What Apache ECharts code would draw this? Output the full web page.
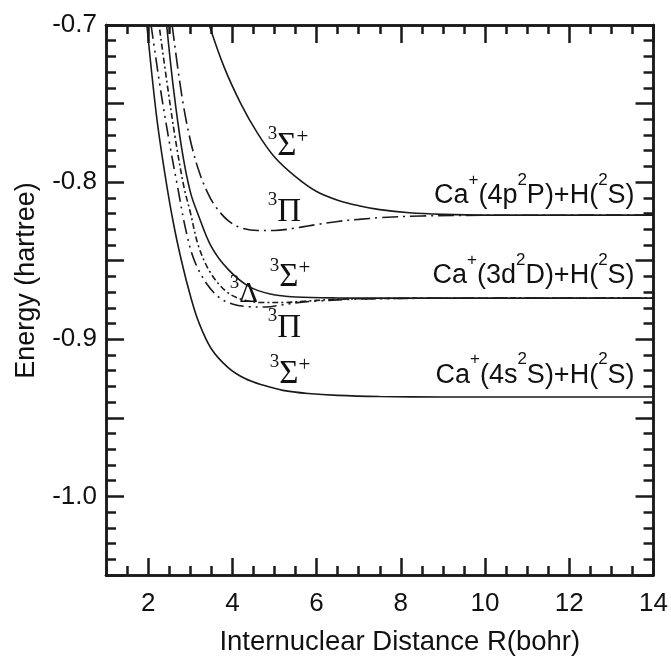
<!DOCTYPE html>
<html>
<head>
<meta charset="utf-8">
<script src="https://cdn.jsdelivr.net/npm/echarts@6/dist/echarts.min.js"></script>
<style>
html,body{margin:0;padding:0;background:#fff;}
#chart{width:671px;height:661px;}
</style>
</head>
<body>
<div id="chart"></div>
<script>
// CaH+ triplet potential curves, [R (bohr), E (hartree)]
var sigma4s=[[1.97,-0.700],[2.2,-0.758],[2.4,-0.795],[2.6,-0.826],[2.8,-0.851],[3.0,-0.872],[3.2,-0.889],[3.5,-0.906],[3.9,-0.918],[4.3,-0.925],[4.7,-0.929],[5.2,-0.9325],[5.8,-0.9345],[6.5,-0.9357],[7.5,-0.9364],[9,-0.9367],[14,-0.9367]];
var sigma3d=[[2.44,-0.700],[2.6,-0.740],[2.8,-0.779],[3.0,-0.806],[3.2,-0.8215],[3.5,-0.841],[3.9,-0.8555],[4.4,-0.8665],[4.9,-0.8712],[5.5,-0.8731],[6.5,-0.8737],[8,-0.8738],[14,-0.8738]];
var sigma4p=[[3.45,-0.700],[3.8,-0.7265],[4.2,-0.750],[4.6,-0.769],[5.0,-0.784],[5.5,-0.7965],[6.0,-0.806],[6.5,-0.8115],[7.0,-0.815],[7.5,-0.8175],[8.2,-0.8195],[9,-0.8205],[10,-0.821],[14,-0.821]];
var pi4p=[[2.57,-0.700],[2.8,-0.745],[3.0,-0.773],[3.2,-0.7925],[3.4,-0.806],[3.6,-0.8155],[3.9,-0.8245],[4.2,-0.829],[4.6,-0.8308],[5.0,-0.8308],[5.5,-0.8292],[6.0,-0.827],[6.5,-0.825],[7.0,-0.8237],[7.5,-0.8226],[8.5,-0.8215],[10,-0.8211],[14,-0.821]];
var pi3d=[[2.07,-0.700],[2.3,-0.742],[2.5,-0.774],[2.7,-0.803],[2.9,-0.831],[3.1,-0.850],[3.4,-0.865],[3.7,-0.8737],[4.0,-0.8775],[4.4,-0.8793],[4.8,-0.8795],[5.2,-0.878],[5.6,-0.8765],[6.0,-0.8757],[6.5,-0.8749],[7.2,-0.8743],[8.5,-0.8739],[10,-0.8738],[14,-0.8738]];
var delta3d=[[2.26,-0.700],[2.45,-0.737],[2.65,-0.773],[2.85,-0.803],[3.0,-0.819],[3.2,-0.841],[3.5,-0.8585],[3.9,-0.8705],[4.3,-0.8752],[4.7,-0.8766],[5.2,-0.8766],[5.7,-0.8758],[6.3,-0.8748],[7,-0.8742],[8.5,-0.8739],[14,-0.8738]];

// axis ticks and labels
var xMajorTicks=[2,4,6,8,10,12,14];
var xMinorTicks=[];
for(var i=2;i<=28;i++){xMinorTicks.push(i/2);}
var yLabelValues=[-1.0,-0.9,-0.8,-0.7];
var yMajorTicks=[-1.05,-1.0,-0.95,-0.9,-0.85,-0.8,-0.75,-0.7];
var yMinorTicks=[];
for(var j=-105;j<=-70;j++){yMinorTicks.push(j/100);}

// state labels: [symbol, R, E]
var stateLabels=[
  ['S',4.84,-0.7770],
  ['P',4.84,-0.8189],
  ['S',4.89,-0.8604],
  ['D',3.94,-0.8717],
  ['P',4.84,-0.8928],
  ['S',4.89,-0.9220]
];
var limitLabels=[
  ['{n|Ca}{s|+}{n|(4p}{s|2}{n|P)+H(}{s|2}{n|S)}',13.55,-0.8085],
  ['{n|Ca}{s|+}{n|(3d}{s|2}{n|D)+H(}{s|2}{n|S)}',13.55,-0.8595],
  ['{n|Ca}{s|+}{n|(4s}{s|2}{n|S)+H(}{s|2}{n|S)}',13.55,-0.9228]
];

var sans='Liberation Sans, Arial, Helvetica, sans-serif';
var serif='Liberation Serif, Times New Roman, serif';
var ink='#1a1a1a';

var chart=echarts.init(document.getElementById('chart'));

function curve(name,data,dash){
  return {
    name:name,
    type:'line',
    data:data,
    symbol:'none',
    smooth:0.35,
    silent:true,
    lineStyle:{color:ink,width:1.6,type:dash||'solid'}
  };
}

function xAx(pos,ticks,len,labels){
  return {
    type:'value',position:pos,min:1,max:14,
    axisLine:{show:true,onZero:false,lineStyle:{color:ink,width:2.5}},
    axisTick:{show:true,inside:true,length:len,customValues:ticks,lineStyle:{color:ink,width:2.5}},
    axisLabel:labels?{show:true,customValues:labels,margin:16,color:'#111',fontSize:26,fontFamily:sans}:{show:false},
    splitLine:{show:false}
  };
}
function yAx(pos,ticks,len,labels){
  return {
    type:'value',position:pos,min:-1.05,max:-0.7,
    axisLine:{show:true,onZero:false,lineStyle:{color:ink,width:2.5}},
    axisTick:{show:true,inside:true,length:len,customValues:ticks,lineStyle:{color:ink,width:2.5}},
    axisLabel:labels?{show:true,customValues:labels,margin:9,color:'#111',fontSize:26,fontFamily:sans,
      formatter:function(v){return v.toFixed(1);}}:{show:false},
    splitLine:{show:false}
  };
}

var xBottom=xAx('bottom',xMajorTicks,17,xMajorTicks);
xBottom.name='Internuclear Distance R(bohr)';
xBottom.nameLocation='middle';
xBottom.nameGap=53;
xBottom.nameTextStyle={fontSize:27.5,fontFamily:sans,color:'#111',padding:[0,0,0,40]};

var yLeft=yAx('left',yMajorTicks,18,yLabelValues);
yLeft.name='Energy (hartree)';
yLeft.nameLocation='middle';
yLeft.nameRotate=90;
yLeft.nameGap=66;
yLeft.nameTextStyle={fontSize:27,fontFamily:sans,color:'#111',padding:[0,0,0,39]};

var option={
  animation:false,
  backgroundColor:'#fff',
  grid:{left:106,right:17,top:25,bottom:81},
  xAxis:[
    xAx('bottom',xMinorTicks,9),
    xBottom,
    xAx('top',xMinorTicks,9),
    xAx('top',xMajorTicks,18)
  ],
  yAxis:[
    yAx('left',yMinorTicks,10),
    yLeft,
    yAx('right',yMinorTicks,10),
    yAx('right',yMajorTicks,18)
  ],
  series:[
    curve('4s sigma',sigma4s),
    curve('3d sigma',sigma3d),
    curve('4p sigma',sigma4p),
    curve('4p pi',pi4p,[16,5,2,5]),
    curve('3d pi',pi3d,[14,5,2,5,2,5]),
    curve('3d delta',delta3d,[2,3,6,3])
  ]
};
chart.setOption(option);

// text labels placed in data coordinates
var greek={S:'\u03A3',P:'\u03A0',D:'\u0394'};
var graphics=[];
stateLabels.forEach(function(l){
  var p=chart.convertToPixel({xAxisIndex:0,yAxisIndex:0},[l[1],l[2]]);
  var txt='{s|3}{g|'+greek[l[0]]+'}'+(l[0]==='S'?'{p|+}':'');
  graphics.push({
    type:'text',x:p[0],y:p[1],silent:true,
    style:{
      text:txt,align:'left',verticalAlign:'middle',fill:'#111',
      rich:{
        s:{fontSize:19,fontFamily:serif,height:13,lineHeight:13,verticalAlign:'top'},
        g:{fontSize:l[0]==='D'?29:33,fontFamily:serif,height:36,lineHeight:36},
        p:{fontSize:21,fontFamily:serif,height:19,lineHeight:19,verticalAlign:'top'}
      }
    }
  });
});
limitLabels.forEach(function(l){
  var p=chart.convertToPixel({xAxisIndex:0,yAxisIndex:0},[l[1],l[2]]);
  graphics.push({
    type:'text',x:p[0],y:p[1],silent:true,
    style:{
      text:l[0],align:'right',verticalAlign:'middle',fill:'#111',
      rich:{
        n:{fontSize:27,fontFamily:sans,height:42,lineHeight:42},
        s:{fontSize:17,fontFamily:sans,height:11,lineHeight:11,verticalAlign:'top'}
      }
    }
  });
});
chart.setOption({graphic:graphics});
</script>
</body>
</html>
